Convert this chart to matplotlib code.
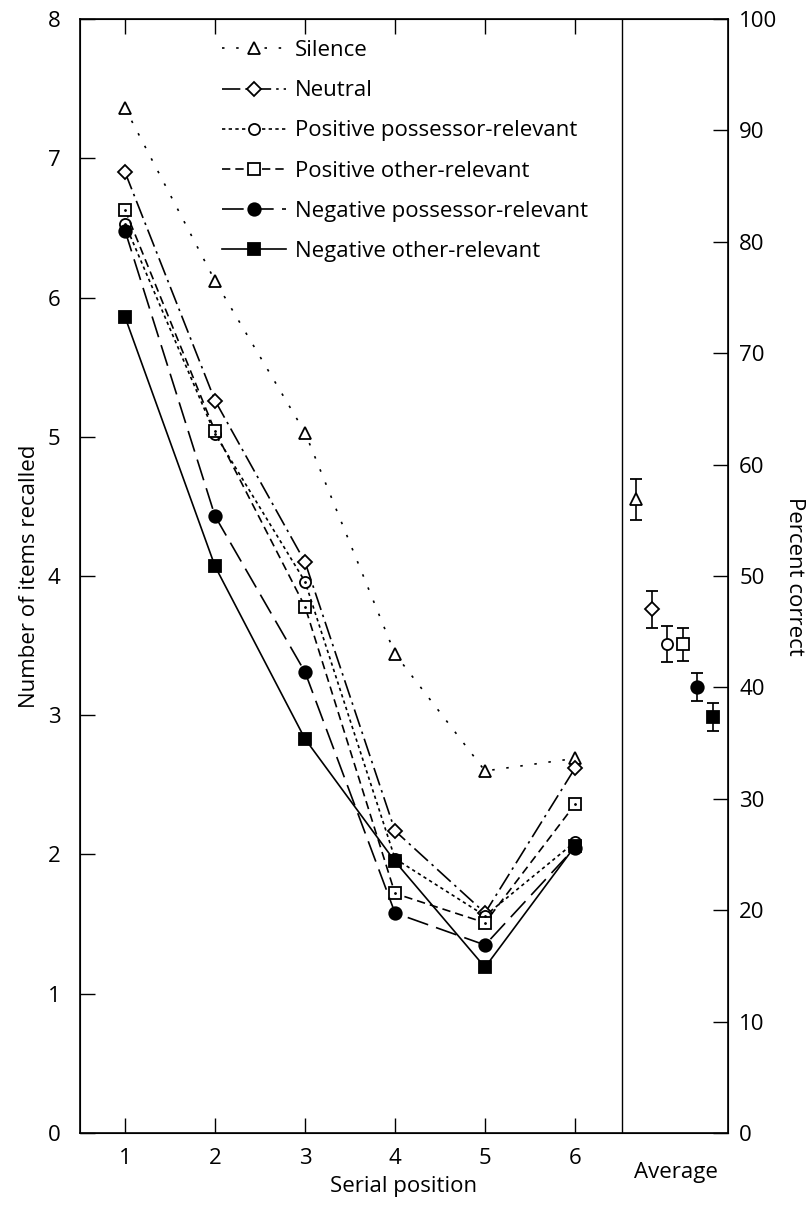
import matplotlib.pyplot as plt

plt.rcParams['font.family'] = ['Open Sans', 'DejaVu Sans']

positions = [1, 2, 3, 4, 5, 6]
labels = ["Silence", "Neutral", "Positive possessor-relevant",
          "Positive other-relevant", "Negative possessor-relevant",
          "Negative other-relevant"]

silence = [7.36, 6.12, 5.03, 3.44, 2.60, 2.69]
neutral = [6.90, 5.26, 4.10, 2.17, 1.58, 2.62]
pos_poss = [6.53, 5.02, 3.96, 1.97, 1.56, 2.09]
pos_other = [6.63, 5.04, 3.78, 1.72, 1.51, 2.36]
neg_poss = [6.48, 4.43, 3.31, 1.58, 1.35, 2.05]
neg_other = [5.86, 4.07, 2.83, 1.95, 1.19, 2.06]

avg_x = [6.68, 6.86, 7.02, 7.20, 7.36, 7.53]
avg_mean = [4.55, 3.76, 3.51, 3.51, 3.20, 2.99]
avg_err = [0.15, 0.13, 0.13, 0.12, 0.10, 0.10]

series = [silence, neutral, pos_poss, pos_other, neg_poss, neg_other]
markers = ['^', 'D', 'o', 's', 'o', 's']
faces = ['white', 'white', 'white', 'white', 'black', 'black']
msizes = [9, 7, 8, 8.5, 9, 8.5]
styles = [(0, (1.5, 7)), (0, (11, 3, 1.5, 3)), (0, (2, 2)),
          (0, (5, 3)), (0, (13, 5)), '-']

fig = plt.figure(figsize=(8.1, 12.12), dpi=100)
ax = fig.add_axes([0.0988, 0.0652, 0.8, 0.9191])

for vals, m, fc, ms, ls, lab in zip(series, markers, faces, msizes, styles, labels):
    ax.plot(positions, vals, color='black', linestyle=ls, linewidth=1.2,
            marker=m, markerfacecolor=fc, markeredgecolor='black',
            markeredgewidth=1.3, markersize=ms, label=lab)

# centre dots of open square / circle markers
ax.plot(positions, pos_poss, linestyle='none', marker='.', color='black', markersize=2)
ax.plot(positions, pos_other, linestyle='none', marker='.', color='black', markersize=2)

# averages with error bars
for x, y, e, m, fc, ms in zip(avg_x, avg_mean, avg_err, markers, faces, msizes):
    ax.errorbar([x], [y], yerr=[e], fmt=m, color='black', markerfacecolor=fc,
                markeredgecolor='black', markeredgewidth=1.3, markersize=ms,
                elinewidth=1.2, capsize=4.5, capthick=1.2)
ax.plot(avg_x[2:4], avg_mean[2:4], linestyle='none', marker='.', color='black', markersize=2)

ax.axvline(6.52, color='black', linewidth=1.0)

ax.set_xlim(0.5, 7.7)
ax.set_ylim(0, 8)
ax.set_xticks(positions)
ax.set_xticklabels([str(p) for p in positions])
ax.set_yticks(range(0, 9))
ax.tick_params(axis='both', direction='in', length=11, width=1.0, labelsize=16,
               top=True, pad=11)
ax.tick_params(axis='y', pad=14)
ax.text(7.12, -0.21, "Average", ha='center', va='top', fontsize=16,
        transform=ax.transData)
ax.set_xlabel("Serial position", fontsize=16, labelpad=5)
ax.set_ylabel("Number of items recalled", fontsize=16, labelpad=6)
for s in ax.spines.values():
    s.set_linewidth(1.2)

ax2 = ax.twinx()
ax2.set_ylim(0, 100)
ax2.set_yticks(range(0, 101, 10))
ax2.tick_params(axis='y', direction='in', length=11, width=1.0, labelsize=16, pad=8)
ax2.set_ylabel("Percent correct", fontsize=16, rotation=270, labelpad=20)

ax.legend(loc='upper left', bbox_to_anchor=(0.205, 0.989), frameon=False,
          fontsize=16, handlelength=2.9, handletextpad=0.4, labelspacing=0.86,
          borderaxespad=0)

fig.savefig("out.png", dpi=100)
